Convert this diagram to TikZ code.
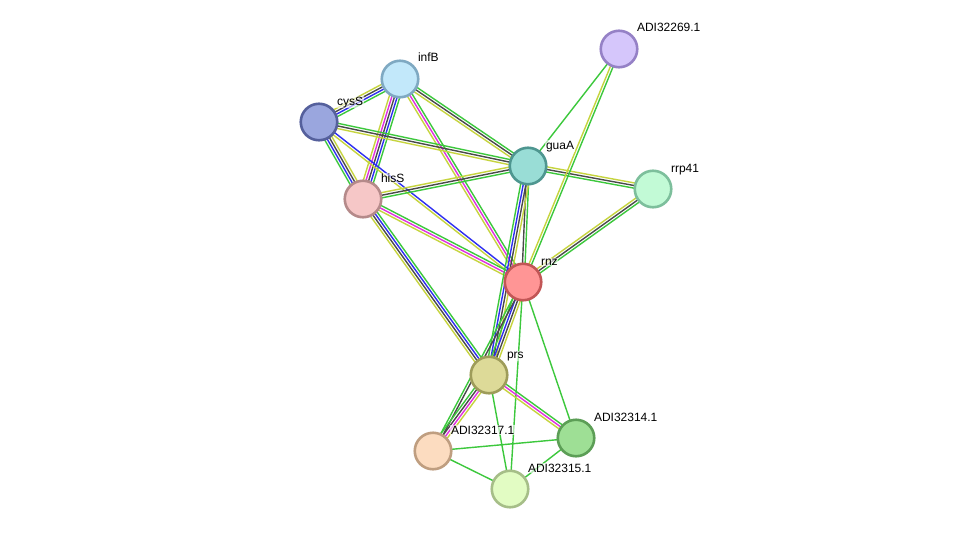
\documentclass[tikz,border=0pt]{standalone}
\usepackage{fontspec}
\setmainfont{Liberation Sans}
\usetikzlibrary{calc}
\pgfdeclarelayer{bglayer}
\pgfdeclarelayer{edgelayer}
\pgfsetlayers{bglayer,edgelayer,main}
\definecolor{eg}{HTML}{3CC83C}
\definecolor{ey}{HTML}{C6D43E}
\definecolor{ek}{HTML}{4A4A4A}
\definecolor{eb}{HTML}{2E2EF0}
\definecolor{em}{HTML}{E030E0}
\definecolor{fInfB}{HTML}{C2E8FA}\definecolor{dInfB}{HTML}{7FA9C2}
\definecolor{fCys}{HTML}{9AA6DE}\definecolor{dCys}{HTML}{55609C}
\definecolor{fGua}{HTML}{99DDD6}\definecolor{dGua}{HTML}{4E9690}
\definecolor{fHis}{HTML}{F6C7C7}\definecolor{dHis}{HTML}{B58A8A}
\definecolor{fRrp}{HTML}{C2FAD6}\definecolor{dRrp}{HTML}{7DBF9C}
\definecolor{fA69}{HTML}{D5C6FB}\definecolor{dA69}{HTML}{9581C6}
\definecolor{fRnz}{HTML}{FF9595}\definecolor{dRnz}{HTML}{C25656}
\definecolor{fPrs}{HTML}{DDDA98}\definecolor{dPrs}{HTML}{9E9C5A}
\definecolor{fA14}{HTML}{9EDF95}\definecolor{dA14}{HTML}{5C9E56}
\definecolor{fA17}{HTML}{FCDCC0}\definecolor{dA17}{HTML}{BF9E80}
\definecolor{fA15}{HTML}{E2FCC3}\definecolor{dA15}{HTML}{A6BE88}
\newcommand\multiedge[4]{%
  \foreach \cc [count=\ii] in {#4} {%
    \pgfmathsetlengthmacro\off{(\ii-(#3+1)/2)*2.6pt}%
    \draw[\cc, line width=1.4pt] ($(#1)!\off!90:(#2)$) -- ($(#2)!\off!-90:(#1)$);
  }%
}
\tikzset{
  prot/.style 2 args={circle, minimum size=36.5pt, inner sep=0pt, line width=2.6pt, fill=#1, draw=#2},
  lab/.style={anchor=base west, font=\fontsize{12}{14}\selectfont, inner sep=0.8pt, fill=white, fill opacity=0.6, text opacity=1}
}
\begin{document}
\begin{tikzpicture}[x=1pt,y=-1pt]
\begin{pgfonlayer}{bglayer}
\fill[white] (0,0) rectangle (976,535);
\end{pgfonlayer}
\useasboundingbox (0,0) rectangle (976,535);
% nodes
\node[prot={fInfB}{dInfB}] (infB) at (400,79) {};
\node[prot={fCys}{dCys}] (cysS) at (319,122) {};
\node[prot={fGua}{dGua}] (guaA) at (528,166) {};
\node[prot={fHis}{dHis}] (hisS) at (363,199) {};
\node[prot={fRrp}{dRrp}] (rrp) at (653,189) {};
\node[prot={fA69}{dA69}] (adi69) at (619,49) {};
\node[prot={fRnz}{dRnz}] (rnz) at (523,282) {};
\node[prot={fPrs}{dPrs}] (prs) at (489,375) {};
\node[prot={fA14}{dA14}] (adi14) at (576,438) {};
\node[prot={fA17}{dA17}] (adi17) at (433,451) {};
\node[prot={fA15}{dA15}] (adi15) at (510,489) {};
% labels
\node[lab] (l69) at ($(adi69)+(17,-17)$) {ADI32269.1};
\node[lab] (linfB) at ($(infB)+(17,-17)$) {infB};
\node[lab] (lcysS) at ($(cysS)+(17,-17)$) {cysS};
\node[lab] (lguaA) at ($(guaA)+(17,-17)$) {guaA};
\node[lab] (lhisS) at ($(hisS)+(17,-17)$) {hisS};
\node[lab] (lrrp) at ($(rrp)+(17,-17)$) {rrp41};
\node[lab] (lrnz) at ($(rnz)+(17,-17)$) {rnz};
\node[lab] (lprs) at ($(prs)+(17,-17)$) {prs};
\node[lab] (l14) at ($(adi14)+(17,-17)$) {ADI32314.1};
\node[lab] (l17) at ($(adi17)+(17,-17)$) {ADI32317.1};
\node[lab] (l15) at ($(adi15)+(17,-17)$) {ADI32315.1};
% edges
\begin{pgfonlayer}{edgelayer}
\multiedge{cysS}{infB}{4}{eg,eb,ek,ey}
\multiedge{infB}{hisS}{5}{ey,em,ek,eb,eg}
\multiedge{infB}{guaA}{3}{ey,ek,eg}
\multiedge{infB}{rnz}{3}{ey,em,eg}
\multiedge{cysS}{guaA}{3}{ey,ek,eg}
\multiedge{cysS}{hisS}{4}{eg,eb,ek,ey}
\multiedge{cysS}{rnz}{2}{ey,eb}
\multiedge{hisS}{guaA}{3}{eg,ek,ey}
\multiedge{hisS}{rnz}{3}{ey,em,eg}
\multiedge{hisS}{prs}{4}{ey,ek,eb,eg}
\multiedge{guaA}{rrp}{3}{eg,ek,ey}
\multiedge{guaA}{rnz}{2}{ek,eg}
\multiedge{guaA}{prs}{4}{eg,eb,ek,ey}
\multiedge{adi69}{guaA}{1}{eg}
\multiedge{adi69}{rnz}{2}{ey,eg}
\multiedge{rrp}{rnz}{3}{ey,ek,eg}
\multiedge{rnz}{prs}{4}{eg,eb,ek,ey}
\multiedge{rnz}{adi17}{2}{eg,ek}
\multiedge{rnz}{adi14}{1}{eg}
\multiedge{rnz}{adi15}{1}{eg}
\multiedge{prs}{adi17}{4}{eg,ek,em,ey}
\multiedge{prs}{adi14}{3}{ey,em,eg}
\multiedge{prs}{adi15}{1}{eg}
\multiedge{adi17}{adi14}{1}{eg}
\multiedge{adi17}{adi15}{1}{eg}
\multiedge{adi15}{adi14}{1}{eg}
\end{pgfonlayer}
\end{tikzpicture}
\end{document}
